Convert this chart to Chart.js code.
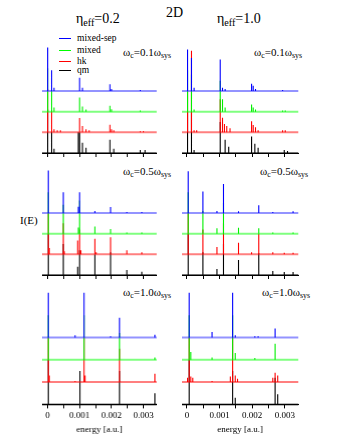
<!DOCTYPE html>
<html>
<head>
<meta charset="utf-8">
<script src="https://cdn.jsdelivr.net/npm/chart.js@4.4.1/dist/chart.umd.min.js"></script>
<style>
  body { margin: 0; background: #fff; }
  #fig { position: relative; width: 340px; height: 440px; font-family: "Liberation Serif", "Times New Roman", serif; color: #000; }
  .panel { position: absolute; }
  .txt { position: absolute; white-space: nowrap; line-height: 1; }
  .txt sub { font-size: 0.72em; vertical-align: -0.3em; line-height: 0; }
  .leg { position: absolute; left: 59px; font-size: 9.5px; line-height: 12px; white-space: nowrap; }
  .leg i { display: inline-block; width: 12px; height: 1px; vertical-align: middle; margin-right: 6px; }
</style>
</head>
<body>
<div id="fig">
  <div class="txt" style="left:166px;top:6px;font-size:14px;">2D</div>
  <div class="txt" style="left:76px;top:12px;font-size:14px;">η<sub>eff</sub>=0.2</div>
  <div class="txt" style="left:217px;top:12px;font-size:14px;">η<sub>eff</sub>=1.0</div>
  <div class="txt" style="left:20px;top:215px;font-size:11px;">I(E)</div>

  <div class="txt" style="left:123px;top:47px;font-size:11px;">ω<sub>c</sub>=0.1ω<sub>sys</sub></div>
  <div class="txt" style="left:254px;top:47px;font-size:11px;">ω<sub>c</sub>=0.1ω<sub>sys</sub></div>
  <div class="txt" style="left:123px;top:166px;font-size:11px;">ω<sub>c</sub>=0.5ω<sub>sys</sub></div>
  <div class="txt" style="left:260px;top:166px;font-size:11px;">ω<sub>c</sub>=0.5ω<sub>sys</sub></div>
  <div class="txt" style="left:123px;top:287px;font-size:11px;">ω<sub>c</sub>=1.0ω<sub>sys</sub></div>
  <div class="txt" style="left:262px;top:287px;font-size:11px;">ω<sub>c</sub>=1.0ω<sub>sys</sub></div>

  <div class="leg" style="top:32px;"><i style="background:#0000ff"></i>mixed-sep</div>
  <div class="leg" style="top:44px;"><i style="background:#00ff00"></i>mixed</div>
  <div class="leg" style="top:55px;"><i style="background:#ff0000"></i>hk</div>
  <div class="leg" style="top:64px;"><i style="background:#000000"></i>qm</div>
</div>

<script>
// tick positions on the energy axis
const tickValues = [0, 0.0005, 0.001, 0.0015, 0.002, 0.0025, 0.003];
// vertical offsets of the stacked spectra (mixed-sep, mixed, hk, qm)
const traceOffsets = [3, 2, 1, 0];
const traceNames = ['mixed-sep', 'mixed', 'hk', 'qm'];
const traceColors = ['#0000ff', '#00f000', '#ff0000', '#000000'];
const baseColors = ['rgba(40,40,255,0.5)', 'rgba(0,255,0,0.5)', 'rgba(255,0,0,0.5)', 'rgba(0,0,0,0.55)'];

// peaks [energy, height]
// row 1, eta=0.2, wc=0.1
const blue1 = [[0, 2.1], [0.000124, 1.0], [0.0002, 0.15], [0.001, 0.64], [0.00109, 0.15], [0.00195, 0.32], [0.002, 0.1], [0.0029, 0.05]];
const green1 = [[0, 2.1], [0.000124, 1.05], [0.0002, 0.2], [0.001, 0.69], [0.00109, 0.25], [0.0012, 0.1], [0.00195, 0.29], [0.002, 0.12], [0.0029, 0.05]];
const red1 = [[0, 2.1], [0.000124, 1.05], [0.0002, 0.15], [0.0003, 0.1], [0.0004, 0.1], [0.001, 0.69], [0.00109, 0.3], [0.0012, 0.15], [0.0013, 0.1], [0.00195, 0.37], [0.002, 0.15], [0.00207, 0.1], [0.0029, 0.05], [0.003, 0.05]];
const black1 = [[0, 2.1], [0.000124, 1.1], [0.0002, 0.2], [0.00096, 1.0], [0.001, 1.0], [0.00109, 0.5], [0.0012, 0.25], [0.00195, 0.64], [0.00207, 0.2], [0.0029, 0.15], [0.00305, 0.15]];
// row 1, eta=1.0, wc=0.1
const blue2 = [[0.00002, 2.0], [0.00014, 1.6], [0.00022, 0.15], [0.00102, 1.52], [0.00109, 0.15], [0.00117, 0.1], [0.00198, 0.35], [0.00203, 0.25], [0.0021, 0.1], [0.00293, 0.05]];
const green2 = [[0.00002, 2.0], [0.00014, 1.8], [0.00022, 0.1], [0.00102, 1.5], [0.00109, 0.6], [0.00117, 0.2], [0.00198, 0.34], [0.00203, 0.2], [0.0021, 0.1], [0.00293, 0.05], [0.00301, 0.05]];
const red2 = [[0.00002, 2.0], [0.00014, 3.95], [0.00022, 0.1], [0.0003, 0.1], [0.00102, 1.6], [0.00109, 0.7], [0.00115, 0.4], [0.00122, 0.3], [0.00132, 0.2], [0.00198, 0.53], [0.00203, 0.35], [0.0021, 0.25], [0.00218, 0.1], [0.00293, 0.1], [0.00301, 0.1]];
const black2 = [[0.00002, 2.0], [0.00014, 2.0], [0.00022, 0.15], [0.00102, 1.5], [0.00117, 0.64], [0.00128, 0.3], [0.00198, 0.8], [0.00208, 0.45], [0.00218, 0.25], [0.00298, 0.15], [0.00308, 0.1]];
// row 2, eta=0.2, wc=0.5
const blue3 = [[0.00002, 2.05], [0.00049, 1.0], [0.00096, 0.3], [0.001, 1.0], [0.00148, 0.1], [0.00197, 0.29], [0.00248, 0.05], [0.00295, 0.05]];
const green3 = [[0.00002, 2.0], [0.00049, 1.4], [0.00096, 0.3], [0.001, 1.6], [0.00148, 0.34], [0.00197, 0.22], [0.00248, 0.05], [0.00295, 0.05]];
const red3 = [[0.00002, 2.0], [0.00005, 0.3], [0.00049, 1.5], [0.00052, 0.15], [0.00094, 0.67], [0.001, 1.2], [0.00104, 0.2], [0.00148, 0.75], [0.00152, 0.1], [0.00197, 0.83], [0.00248, 0.2], [0.00295, 0.1]];
const black3 = [[0.00002, 2.0], [0.00049, 1.5], [0.00094, 0.4], [0.001, 1.2], [0.00148, 1.0], [0.00197, 1.1], [0.00248, 0.24], [0.00295, 0.16]];
// row 2, eta=1.0, wc=0.5
const blue4 = [[0.00004, 2.02], [0.00049, 1.04], [0.00092, 0.1], [0.00112, 1.4], [0.00158, 0.08], [0.0022, 0.37], [0.00263, 0.05], [0.00325, 0.08]];
const green4 = [[0.00004, 2.0], [0.00049, 1.1], [0.00092, 0.26], [0.00112, 1.5], [0.00158, 0.29], [0.0022, 0.26], [0.00263, 0.05], [0.00325, 0.05]];
const red4 = [[0.00004, 2.0], [0.00049, 1.2], [0.00092, 0.35], [0.00112, 1.5], [0.00158, 0.56], [0.00198, 0.1], [0.0022, 1.0], [0.00263, 0.1], [0.00298, 0.08], [0.00325, 0.08]];
const black4 = [[0.00004, 2.0], [0.00049, 1.1], [0.00092, 0.29], [0.00112, 1.5], [0.00158, 0.72], [0.0022, 1.05], [0.00263, 0.19], [0.00298, 0.15], [0.00325, 0.15]];
// row 3, eta=0.2, wc=1.0
const blue5 = [[0.00002, 2.0], [0.00086, 0.1], [0.00114, 2.0], [0.00197, 0.05], [0.00225, 0.88], [0.00336, 0.12]];
const green5 = [[0.00002, 2.0], [0.00114, 2.0], [0.00225, 1.2], [0.00336, 0.1]];
const red5 = [[0.00002, 2.0], [0.00005, 0.3], [0.00086, 0.05], [0.00114, 2.0], [0.00117, 0.3], [0.00225, 1.5], [0.00336, 0.37]];
const black5 = [[0.00002, 2.0], [0.00101, 1.5], [0.00225, 1.5], [0.00336, 0.5]];
// row 3, eta=1.0, wc=1.0
const blue6 = [[0.00007, 2.0], [0.00077, 0.24], [0.0014, 2.0], [0.00148, 0.1], [0.00208, 0.05], [0.00218, 0.05], [0.0027, 0.4]];
const green6 = [[0.00007, 2.0], [0.00012, 0.35], [0.00077, 0.1], [0.0014, 2.0], [0.00148, 0.3], [0.00208, 0.08], [0.0027, 0.72]];
const red6 = [[0.00002, 0.2], [0.00007, 2.0], [0.00012, 0.25], [0.00018, 0.2], [0.00077, 0.05], [0.00133, 0.25], [0.0014, 2.0], [0.00148, 0.3], [0.00155, 0.15], [0.00263, 0.2], [0.0027, 0.42], [0.00278, 0.3]];
const black6 = [[0.00007, 2.0], [0.0014, 1.5], [0.00148, 0.3], [0.0027, 1.2], [0.00278, 0.46]];

// layout of the six panels
const AREA_H = 120;
const Y_MAX = AREA_H / 20.85;
const leftCol = { left: 41, width: 115.7, min: -0.000177, max: 0.003416 };
const rightCol = { left: 181, width: 118.3, min: -0.00015, max: 0.00341 };

const panels = [
  { col: leftCol, axisY: 153.3, traces: [blue1, green1, red1, black1], labels: false },
  { col: rightCol, axisY: 153.3, traces: [blue2, green2, red2, black2], labels: false },
  { col: leftCol, axisY: 275, traces: [blue3, green3, red3, black3], labels: false },
  { col: rightCol, axisY: 275, traces: [blue4, green4, red4, black4], labels: false },
  { col: leftCol, axisY: 394.7, traces: [blue5, green5, red5, black5], labels: true },
  { col: rightCol, axisY: 394.7, traces: [blue6, green6, red6, black6], labels: true }
];

// builds a stick spectrum: a vertical line from the baseline for each peak
function sticks(peaks, offset) {
  const pts = [];
  peaks.forEach(function(p) {
    pts.push({ x: p[0], y: offset });
    pts.push({ x: p[0], y: offset + p[1] });
    pts.push({ x: p[0], y: null });
  });
  return pts;
}

function buildDatasets(panel) {
  const sets = [];
  panel.traces.forEach(function(peaks, i) {
    const off = traceOffsets[i];
    sets.push({
      label: traceNames[i],
      data: sticks(peaks, off),
      borderColor: traceColors[i],
      borderWidth: 1.1,
      pointRadius: 0,
      spanGaps: false,
      clip: false
    });
    sets.push({
      label: traceNames[i] + ' base',
      data: [{ x: panel.col.min, y: off }, { x: panel.col.max, y: off }],
      borderColor: baseColors[i],
      borderWidth: 2,
      pointRadius: 0,
      clip: false
    });
  });
  return sets;
}

function isMajor(v) {
  return Math.abs(v * 1000 - Math.round(v * 1000)) < 1e-6;
}

const fig = document.getElementById('fig');
const serif = "'Liberation Serif', 'Times New Roman', serif";

panels.forEach(function(panel) {
  const extra = panel.labels ? 40 : 4;
  const div = document.createElement('div');
  div.className = 'panel';
  div.style.left = panel.col.left + 'px';
  div.style.top = (panel.axisY - AREA_H) + 'px';
  div.style.width = panel.col.width + 'px';
  div.style.height = (AREA_H + extra) + 'px';
  const canvas = document.createElement('canvas');
  div.appendChild(canvas);
  fig.appendChild(div);

  new Chart(canvas, {
    type: 'line',
    data: { datasets: buildDatasets(panel) },
    options: {
      responsive: true,
      maintainAspectRatio: false,
      animation: false,
      layout: { padding: 0 },
      plugins: { legend: { display: false }, tooltip: { enabled: false } },
      scales: {
        x: {
          type: 'linear',
          min: panel.col.min,
          max: panel.col.max,
          afterBuildTicks: function(axis) {
            axis.ticks = tickValues.map(function(v) { return { value: v }; });
          },
          border: { display: true, color: '#000', width: 1 },
          grid: { display: true, drawOnChartArea: false, drawTicks: true, tickLength: 4, tickColor: '#000', tickWidth: 1 },
          ticks: {
            display: panel.labels,
            autoSkip: false,
            maxRotation: 0,
            padding: 2,
            color: '#000',
            font: { family: serif, size: 9 },
            callback: function(v) { return isMajor(v) ? String(Math.round(v * 1000) / 1000) : ''; }
          },
          title: {
            display: panel.labels,
            text: 'energy [a.u.]',
            color: '#000',
            font: { family: serif, size: 9 },
            padding: { top: 1, bottom: 0 }
          }
        },
        y: { display: false, min: 0, max: Y_MAX }
      }
    }
  });
});
</script>
</body>
</html>
